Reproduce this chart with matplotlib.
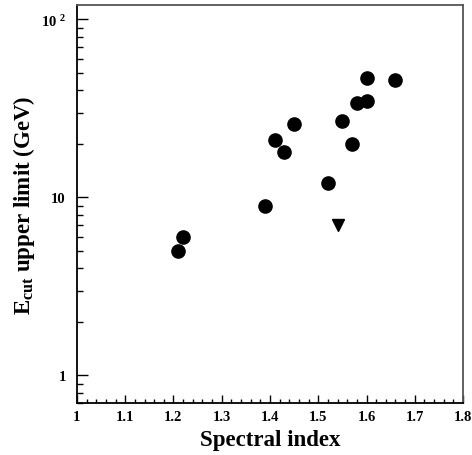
import numpy as np
import matplotlib
matplotlib.use("Agg")
import matplotlib.pyplot as plt
from matplotlib.ticker import MultipleLocator, LogLocator, FuncFormatter, NullFormatter

plt.rcParams["font.family"] = ["Liberation Serif", "DejaVu Serif"]
plt.rcParams["font.weight"] = "bold"
plt.rcParams["mathtext.fontset"] = "custom"
plt.rcParams["mathtext.rm"] = "Liberation Serif:bold"
plt.rcParams["mathtext.bf"] = "Liberation Serif:bold"
plt.rcParams["mathtext.it"] = "Liberation Serif:bold"

# Detected sources: spectral index vs cutoff energy upper limit
index_det = [1.21, 1.22, 1.39, 1.41, 1.43, 1.45, 1.52, 1.55, 1.57, 1.58, 1.60, 1.60, 1.66]
ecut_det = [5.0, 6.0, 9.0, 21.0, 18.0, 26.0, 12.0, 27.0, 20.0, 34.0, 35.0, 47.0, 46.0]

# Upper limit only
index_ul = [1.54]
ecut_ul = [7.0]

fig = plt.figure(figsize=(4.72, 4.56), dpi=100)
ax = fig.add_axes([0.163, 0.114, 0.818, 0.872])

ax.plot(index_det, ecut_det, "o", color="black", markersize=9.5, linestyle="none")
ax.plot(index_ul, ecut_ul, "v", color="black", markersize=8.5, linestyle="none")

ax.set_yscale("log")
ax.set_xlim(1.0, 1.8)
ax.set_ylim(0.7, 120)

ax.xaxis.set_major_locator(MultipleLocator(0.1))
ax.xaxis.set_minor_locator(MultipleLocator(0.02))
ax.xaxis.set_major_formatter(FuncFormatter(lambda v, p: f"{v:g}"))

ax.yaxis.set_major_locator(LogLocator(base=10, numticks=10))
ax.yaxis.set_minor_locator(LogLocator(base=10, subs=np.arange(2, 10), numticks=20))
ax.yaxis.set_minor_formatter(NullFormatter())


def ylab(v, p):
    if np.isclose(v, 100):
        return r"10 $^{2}$"
    return f"{v:g}"


ax.yaxis.set_major_formatter(FuncFormatter(ylab))

ax.tick_params(which="both", direction="in", top=False, right=False, labelsize=10.5)
ax.tick_params(axis="x", which="major", length=6, width=1.0, pad=5)
ax.tick_params(axis="x", which="minor", length=3, width=1.0)
ax.tick_params(axis="y", which="major", length=8, width=1.0, pad=8)
ax.tick_params(axis="y", which="minor", length=4, width=1.0)
for lab in ax.get_xticklabels() + ax.get_yticklabels():
    lab.set_fontweight("bold")

for s in ax.spines.values():
    s.set_linewidth(1.3)
ax.spines["right"].set_color("#555555")
ax.spines["top"].set_color("#555555")

ax.set_xlabel("Spectral index", fontsize=16.5, fontweight="bold", labelpad=4)
ax.set_ylabel(r"E$_{\mathrm{cut}}$ upper limit (GeV)", fontsize=16.5, fontweight="bold", labelpad=3)

fig.savefig("out.png", dpi=100)
